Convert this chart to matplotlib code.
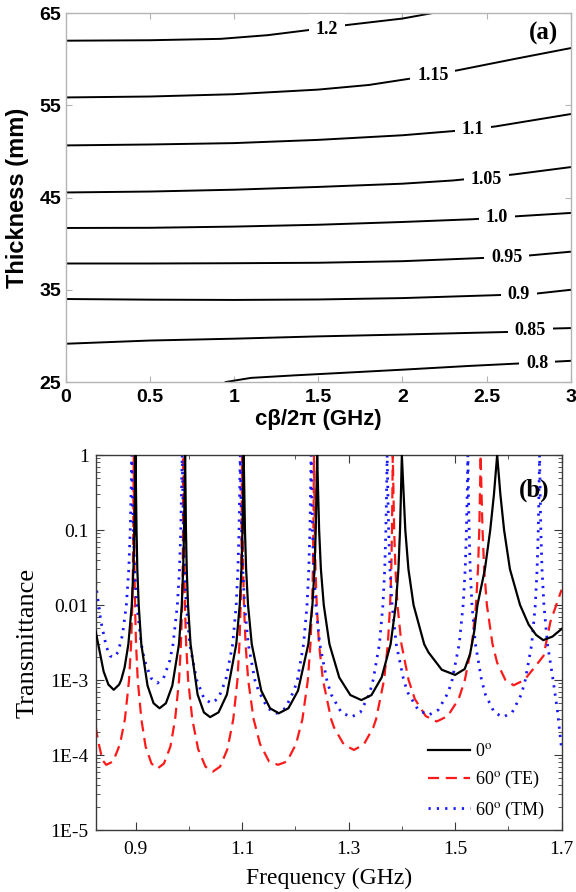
import matplotlib.pyplot as plt
import numpy as np

plt.rcParams["mathtext.fontset"] = "stix"

# ---------------- panel (a): contour lines ----------------
levels = ["1.2", "1.15", "1.1", "1.05", "1.0", "0.95", "0.9", "0.85", "0.8"]

line_x = [
    [0, 0.5, 0.92, 1.2, 1.42, 1.67, 2.0, 2.18],
    [0, 0.5, 1.0, 1.5, 1.8, 2.05, 2.33, 2.66, 3.0],
    [0, 0.5, 1.0, 1.5, 2.0, 2.3, 2.55, 3.0],
    [0, 0.5, 1.0, 1.5, 2.0, 2.3, 2.66, 3.0],
    [0, 0.5, 1.0, 1.5, 2.0, 2.42, 2.68, 3.0],
    [0, 0.5, 1.0, 1.5, 2.0, 2.48, 2.74, 3.0],
    [0, 0.5, 1.0, 1.5, 2.0, 2.56, 2.8, 3.0],
    [0, 0.5, 1.0, 1.5, 2.0, 2.63, 2.89, 3.0],
    [0.95, 1.1, 1.355, 1.7, 2.01, 2.4, 2.68, 3.0],
]
line_t = [
    [62.0, 62.05, 62.2, 62.6, 63.1, 63.7, 64.4, 65.0],
    [55.85, 55.95, 56.2, 56.7, 57.2, 57.9, 58.8, 60.0, 61.2],
    [50.65, 50.75, 50.9, 51.25, 51.75, 52.2, 52.7, 54.05],
    [45.55, 45.65, 45.85, 46.15, 46.5, 46.85, 47.5, 48.3],
    [41.7, 41.72, 41.85, 42.05, 42.35, 42.65, 42.97, 43.33],
    [37.85, 37.85, 37.88, 37.93, 38.1, 38.45, 38.7, 39.13],
    [34.0, 33.93, 33.9, 33.95, 34.1, 34.42, 34.6, 35.0],
    [29.15, 29.5, 29.7, 29.95, 30.15, 30.43, 30.8, 30.85],
    [25.0, 25.45, 25.72, 26.05, 26.35, 26.75, 27.0, 27.3],
]
label_x = [1.55, 2.18, 2.42, 2.5, 2.56, 2.62, 2.69, 2.76, 2.8]
label_t = [63.2, 58.2, 52.35, 47.0, 42.8, 38.55, 34.5, 30.55, 27.05]

# ---------------- panel (b): transmittance curves ----------------
pts_0 = [
    (0.825, 4.5e-3), (0.840, 1.3e-3), (0.849, 8.7e-4), (0.859, 7.4e-4), (0.8692, 8.7e-4),
    (0.873, 1.0e-3), (0.8795, 1.48e-3), (0.8865, 3e-3), (0.8929, 0.01), (0.896, 0.03),
    (0.8979, 0.1), (0.8989, 0.3), (0.900, 1.0), (0.9009, 0.3), (0.9018, 0.1), (0.9033, 0.03),
    (0.9059, 0.01), (0.9108, 3e-3), (0.9225, 8.4e-4), (0.9338, 4.9e-4), (0.945, 4.2e-4),
    (0.957, 4.9e-4), (0.969, 8.4e-4), (0.9815, 3e-3), (0.9868, 0.01), (0.9894, 0.03),
    (0.9911, 0.1), (0.992, 0.3), (0.993, 1.0), (0.9939, 0.3), (0.9946, 0.1), (0.9961, 0.03),
    (0.9985, 0.01), (1.0033, 3e-3), (1.0165, 6.4e-4), (1.0283, 3.7e-4), (1.040, 3.2e-4),
    (1.0558, 3.7e-4), (1.0715, 6.4e-4), (1.0891, 3e-3), (1.0956, 0.01), (1.0988, 0.03),
    (1.1008, 0.1), (1.1019, 0.3), (1.103, 1.0), (1.1043, 0.3), (1.1054, 0.1), (1.1076, 0.03),
    (1.1112, 0.01), (1.1182, 3e-3), (1.136, 7.2e-4), (1.1525, 4.2e-4), (1.169, 3.6e-4),
    (1.187, 4.2e-4), (1.205, 7.2e-4), (1.2244, 3e-3), (1.2321, 0.01), (1.236, 0.03),
    (1.2383, 0.1), (1.2396, 0.3), (1.241, 1.0), (1.2429, 0.3), (1.2447, 0.1), (1.248, 0.03),
    (1.2534, 0.01), (1.2641, 3e-3), (1.2825, 1.08e-3), (1.3033, 6.3e-4), (1.324, 5.4e-4),
    (1.343, 6.3e-4), (1.362, 1.08e-3), (1.3789, 3e-3), (1.3887, 0.01), (1.3936, 0.03),
    (1.3966, 0.1), (1.3983, 0.3), (1.400, 1.0), (1.4034, 0.3), (1.4065, 0.1), (1.4124, 0.03),
    (1.422, 0.01), (1.442, 3e-3), (1.45, 2.34e-3), (1.475, 1.37e-3), (1.50, 1.17e-3),
    (1.518, 1.4e-3), (1.528, 2.2e-3), (1.536, 4.5e-3), (1.542, 0.01), (1.556, 0.03),
    (1.566, 0.1), (1.573, 0.3), (1.579, 1.0), (1.585, 0.3), (1.592, 0.1), (1.603, 0.03),
    (1.622, 0.01), (1.638, 5.5e-3), (1.652, 4e-3), (1.6655, 3.4e-3), (1.683, 3.8e-3),
    (1.7, 4.8e-3),
]
pts_te = [
    (0.825, 2.4e-4), (0.830, 1.5e-4), (0.838, 8.5e-5), (0.845, 7.4e-5), (0.8579, 8.2e-5),
    (0.8708, 1.4e-4), (0.8800, 3e-4), (0.8878, 1e-3), (0.8916, 3e-3), (0.8939, 0.01),
    (0.895, 0.03), (0.8958, 0.1), (0.8962, 0.3), (0.8966, 1.0), (0.897, 0.3), (0.8973, 0.1),
    (0.8979, 0.03), (0.899, 0.01), (0.9009, 3e-3), (0.9041, 1e-3), (0.9109, 3e-4),
    (0.9188, 1.3e-4), (0.9299, 7.7e-5), (0.941, 6.6e-5), (0.9533, 7.7e-5), (0.9655, 1.3e-4),
    (0.9743, 3e-4), (0.9817, 1e-3), (0.9852, 3e-3), (0.9874, 0.01), (0.9885, 0.03),
    (0.9892, 0.1), (0.9896, 0.3), (0.990, 1.0), (0.9904, 0.3), (0.9908, 0.1), (0.9915, 0.03),
    (0.9927, 0.01), (0.995, 3e-3), (0.9987, 1e-3), (1.0065, 3e-4), (1.0175, 1.2e-4),
    (1.0313, 7e-5), (1.045, 6.0e-5), (1.0588, 7e-5), (1.0725, 1.2e-4), (1.0835, 3e-4),
    (1.0913, 1e-3), (1.095, 3e-3), (1.0973, 0.01), (1.0985, 0.03), (1.0992, 0.1),
    (1.0996, 0.3), (1.100, 1.0), (1.1006, 0.3), (1.1011, 0.1), (1.102, 0.03), (1.1036, 0.01),
    (1.1066, 3e-3), (1.1115, 1e-3), (1.1217, 3e-4), (1.1338, 1.4e-4), (1.1506, 8.2e-5),
    (1.1675, 7.4e-5), (1.1844, 8.2e-5), (1.2013, 1.4e-4), (1.2133, 3e-4), (1.2235, 1e-3),
    (1.2284, 3e-3), (1.2314, 0.01), (1.233, 0.03), (1.2339, 0.1), (1.2345, 0.3),
    (1.235, 1.0), (1.2358, 0.3), (1.2365, 0.1), (1.2379, 0.03), (1.2402, 0.01),
    (1.2445, 3e-3), (1.2518, 1e-3), (1.2673, 3e-4), (1.2725, 2.34e-4), (1.2913, 1.37e-4),
    (1.31, 1.17e-4), (1.3283, 1.37e-4), (1.3465, 2.34e-4), (1.3516, 3e-4), (1.3666, 1e-3),
    (1.3737, 3e-3), (1.378, 0.01), (1.3802, 0.03), (1.3815, 0.1), (1.3822, 0.3),
    (1.383, 1.0), (1.3843, 0.3), (1.3856, 0.1), (1.388, 0.03), (1.3918, 0.01),
    (1.3993, 3e-3), (1.4127, 1e-3), (1.4243, 5.6e-4), (1.4449, 3.3e-4), (1.4655, 2.8e-4),
    (1.4861, 3.3e-4), (1.5068, 5.6e-4), (1.5183, 1e-3), (1.5317, 3e-3), (1.5392, 0.01),
    (1.543, 0.03), (1.5454, 0.1), (1.5467, 0.3), (1.548, 1.0), (1.5497, 0.3), (1.5515, 0.1),
    (1.5546, 0.03), (1.5597, 0.01), (1.5703, 3e-3), (1.579, 1.7e-3), (1.5945, 1e-3),
    (1.61, 8.5e-4), (1.63, 1.0e-3), (1.65, 1.5e-3), (1.666, 2.1e-3), (1.679, 6e-3),
    (1.69, 0.01), (1.7, 0.016),
]
pts_tm = [
    (0.825, 0.02), (0.835, 6e-3), (0.845, 2.8e-3), (0.852, 2.1e-3), (0.858, 2.0e-3),
    (0.867, 2.34e-3), (0.8755, 4e-3), (0.8827, 0.01), (0.8873, 0.03), (0.890, 0.1),
    (0.8915, 0.3), (0.893, 1.0), (0.8944, 0.3), (0.8958, 0.1), (0.8983, 0.03), (0.9024, 0.01),
    (0.9108, 3e-3), (0.917, 1.82e-3), (0.929, 1.06e-3), (0.941, 9.1e-4), (0.9526, 1.06e-3),
    (0.9643, 1.82e-3), (0.9704, 3e-3), (0.9785, 0.01), (0.9825, 0.03), (0.9849, 0.1),
    (0.9862, 0.3), (0.9876, 1.0), (0.9888, 0.3), (0.9899, 0.1), (0.992, 0.03), (0.9952, 0.01),
    (1.0017, 3e-3), (1.0148, 1e-3), (1.0284, 5.7e-4), (1.042, 4.9e-4), (1.0556, 5.7e-4),
    (1.0693, 1e-3), (1.0824, 3e-3), (1.089, 0.01), (1.0922, 0.03), (1.0943, 0.1),
    (1.0954, 0.3), (1.0966, 1.0), (1.0978, 0.3), (1.0991, 0.1), (1.1013, 0.03), (1.1048, 0.01),
    (1.1116, 3e-3), (1.124, 1e-3), (1.1308, 7.2e-4), (1.1479, 4.2e-4), (1.165, 3.6e-4),
    (1.1812, 4.2e-4), (1.1974, 7.2e-4), (1.2038, 1e-3), (1.2155, 3e-3), (1.222, 0.01),
    (1.2253, 0.03), (1.2274, 0.1), (1.2285, 0.3), (1.2297, 1.0), (1.231, 0.3), (1.2323, 0.1),
    (1.2347, 0.03), (1.2385, 0.01), (1.2459, 3e-3), (1.2591, 1e-3), (1.2674, 6.4e-4),
    (1.2862, 3.7e-4), (1.305, 3.2e-4), (1.3219, 3.7e-4), (1.3387, 6.4e-4), (1.3461, 1e-3),
    (1.3579, 3e-3), (1.3645, 0.01), (1.3679, 0.03), (1.370, 0.1), (1.3713, 0.3),
    (1.3724, 1.0), (1.3738, 0.3), (1.3752, 0.1), (1.3777, 0.03), (1.3817, 0.01),
    (1.3895, 3e-3), (1.4034, 1e-3), (1.4112, 6.8e-4), (1.4306, 4e-4), (1.45, 3.4e-4),
    (1.4685, 4e-4), (1.487, 6.8e-4), (1.4944, 1e-3), (1.5077, 3e-3), (1.5151, 0.01),
    (1.519, 0.03), (1.5213, 0.1), (1.5227, 0.3), (1.524, 1.0), (1.5251, 0.3), (1.5263, 0.1),
    (1.5284, 0.03), (1.5317, 0.01), (1.5382, 3e-3), (1.5497, 1e-3), (1.557, 6.4e-4),
    (1.5735, 3.7e-4), (1.59, 3.2e-4), (1.6072, 3.7e-4), (1.6243, 6.4e-4), (1.6318, 1e-3),
    (1.6439, 3e-3), (1.6506, 0.01), (1.654, 0.03), (1.6562, 0.1), (1.6574, 0.3),
    (1.6586, 1.0), (1.6598, 0.3), (1.661, 0.1), (1.6632, 0.03), (1.6668, 0.01),
    (1.6735, 3e-3), (1.684, 1e-3), (1.692, 4e-4), (1.7, 1.2e-4),
]

series_labels = ["0$^{\\rm o}$", "60$^{\\rm o}$ (TE)", "60$^{\\rm o}$ (TM)"]
ytick_vals = [1e-5, 1e-4, 1e-3, 1e-2, 1e-1, 1]
ytick_text = ["1E-5", "1E-4", "1E-3", "0.01", "0.1", "1"]

fig = plt.figure(figsize=(5.76, 8.92), dpi=100)

# ---- (a) ----
sans = "Liberation Sans"
serif = "Liberation Serif"
ax1 = fig.add_axes([0.114, 0.5717, 0.877, 0.4137])
for xs, ts in zip(line_x, line_t):
    ax1.plot(xs, ts, color="black", lw=1.4, zorder=2)
for lab, lx, lt in zip(levels, label_x, label_t):
    ax1.text(lx, lt, lab, family=serif, weight="bold", fontsize=13,
             ha="center", va="center", zorder=3,
             bbox=dict(fc="white", ec="none", pad=5))
ax1.set_xlim(0, 3)
ax1.set_ylim(25, 65)
ax1.set_xticks([0, 0.5, 1, 1.5, 2, 2.5, 3])
ax1.set_xticklabels(["0", "0.5", "1", "1.5", "2", "2.5", "3"])
ax1.set_yticks([25, 35, 45, 55, 65])
for sp in ax1.spines.values():
    sp.set_color("#b4b4b4")
    sp.set_linewidth(1.0)
ax1.tick_params(direction="in", length=4, color="#b4b4b4", top=True, right=True,
                labelsize=14, pad=3)
ax1.tick_params(axis="x", pad=5)
for lbl in ax1.get_xticklabels() + ax1.get_yticklabels():
    lbl.set_family(sans)
    lbl.set_weight("bold")
ax1.set_xlabel("c\u03b2/2\u03c0 (GHz)", family=sans, weight="bold", fontsize=16)
ax1.set_ylabel("Thickness (mm)", family=sans, weight="bold", fontsize=17)
ax1.xaxis.set_label_coords(0.5, -0.072)
ax1.yaxis.set_label_coords(-0.072, 0.5)
ax1.text(0.975, 0.945, "(a)", transform=ax1.transAxes, family=serif, weight="bold",
         fontsize=18, ha="right", va="center")

# ---- (b) ----
ax2 = fig.add_axes([0.166, 0.0695, 0.809, 0.4204])
f0, t0 = zip(*pts_0)
fte, tte = zip(*pts_te)
ftm, ttm = zip(*pts_tm)
ax2.plot(f0, t0, color="black", lw=1.6, label=series_labels[0], zorder=3)
ax2.plot(fte, tte, color="#ff1a1a", lw=1.6, ls=(0, (5, 3)), label=series_labels[1], zorder=2)
ax2.plot(ftm, ttm, color="#1a1aff", lw=2.0, ls=(0, (0.8, 2.2)), label=series_labels[2], zorder=2)
ax2.set_yscale("log")
ax2.set_xlim(0.825, 1.7)
ax2.set_ylim(1e-5, 1)
ax2.set_yticks(ytick_vals)
ax2.set_yticklabels(ytick_text)
ax2.set_xticks([0.9, 1.1, 1.3, 1.5, 1.7])
ax2.set_xticklabels(["0.9", "1.1", "1.3", "1.5", "1.7"])
ax2.set_xticks([1.0, 1.2, 1.4, 1.6], minor=True)
for sp in ax2.spines.values():
    sp.set_color("#3a3a3a")
    sp.set_linewidth(1.0)
ax2.tick_params(which="both", direction="in", top=True, right=True, color="#3a3a3a")
ax2.tick_params(which="major", length=6, labelsize=14, pad=5)
ax2.tick_params(which="minor", length=3)
ax2.tick_params(axis="x", which="major", pad=8)
for lbl in ax2.get_xticklabels() + ax2.get_yticklabels():
    lbl.set_family(serif)
ax2.set_xlabel("Frequency (GHz)", family=serif, fontsize=17)
ax2.set_ylabel("Transmittance", family=serif, fontsize=19)
ax2.xaxis.set_label_coords(0.5, -0.1)
ax2.yaxis.set_label_coords(-0.122, 0.5)
ax2.text(0.975, 0.907, "(b)", transform=ax2.transAxes, family=serif, weight="bold",
         fontsize=18, ha="right", va="center")
ax2.legend(loc="lower right", bbox_to_anchor=(0.965, 0.025), frameon=False,
           prop={"family": serif, "size": 13},
           handlelength=2.3, handletextpad=0.3, labelspacing=0.5,
           borderaxespad=0.0, borderpad=0.0)

fig.savefig("out.png", dpi=100)
